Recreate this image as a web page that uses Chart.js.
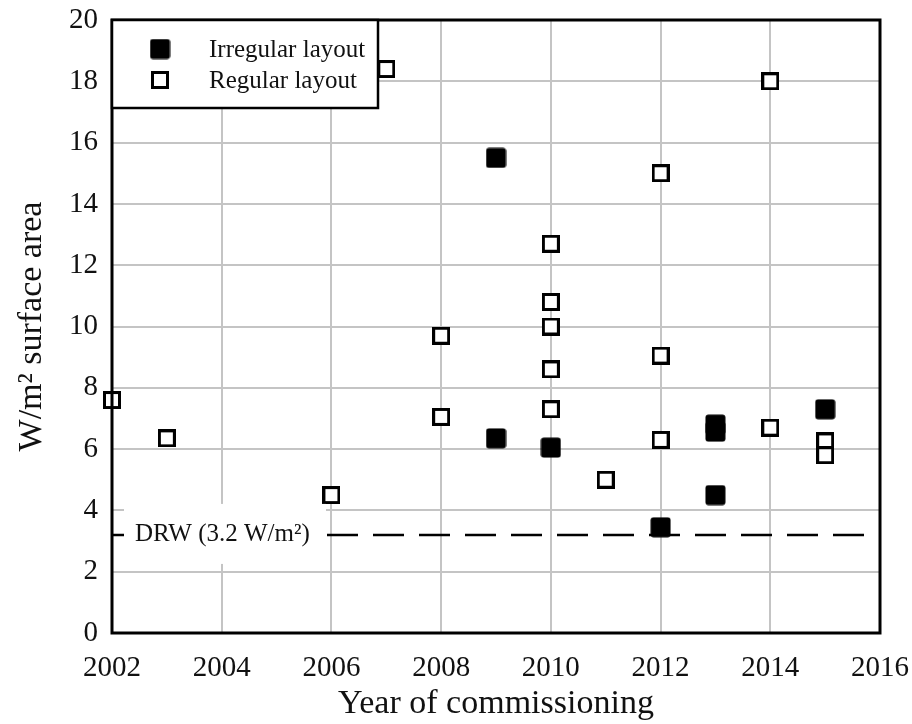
<!DOCTYPE html>
<html>
<head>
<meta charset="utf-8">
<script src="https://cdn.jsdelivr.net/npm/chart.js@4/dist/chart.umd.min.js"></script>
<style>
  html, body { margin: 0; padding: 0; background: #fff; }
  #wrap { width: 912px; height: 724px; }
</style>
</head>
<body>
<div id="wrap"><canvas id="c" width="912" height="724"></canvas></div>
<script>
// Axis ticks
const yearTicks = [2002, 2004, 2006, 2008, 2010, 2012, 2014, 2016];
const valueTicks = [0, 2, 4, 6, 8, 10, 12, 14, 16, 18, 20];

// Irregular layout projects (filled markers)
const irregularYears  = [2009, 2009, 2010, 2012, 2013, 2013, 2013, 2015];
const irregularValues = [15.5, 6.35, 6.05, 3.45, 6.8, 6.57, 4.5, 7.3];

// Regular layout projects (open markers)
const regularYears  = [2002, 2003, 2006, 2007, 2008, 2008, 2010, 2010, 2010, 2010, 2010, 2011, 2012, 2012, 2012, 2014, 2014, 2015, 2015];
const regularValues = [7.6, 6.35, 4.5, 18.4, 9.7, 7.05, 12.7, 10.8, 10.0, 8.6, 7.3, 5.0, 15.0, 9.05, 6.3, 18.0, 6.7, 6.25, 5.8];

// Reference level
const drwLevel = 3.2;
const drwLabel = 'DRW (3.2 W/m²)';

const seriesNames = ['Irregular layout', 'Regular layout'];
const xTitle = 'Year of commissioning';
const yTitle = 'W/m² surface area';

const SERIF = '"Liberation Serif", "Times New Roman", serif';

function toPoints(xs, ys) { return xs.map((x, i) => ({ x: x, y: ys[i] })); }

// Marker images
function filledMarker() {
  const c = document.createElement('canvas');
  c.width = 21; c.height = 21;
  const g = c.getContext('2d');
  g.fillStyle = '#000';
  g.beginPath();
  g.roundRect(0.5, 0.5, 20, 20, 3);
  g.fill();
  return c;
}
function openMarker() {
  const c = document.createElement('canvas');
  c.width = 18; c.height = 18;
  const g = c.getContext('2d');
  g.fillStyle = '#fff';
  g.fillRect(1.5, 1.5, 15, 15);
  g.strokeStyle = '#000';
  g.lineWidth = 3;
  g.strokeRect(1.5, 1.5, 15, 15);
  return c;
}
const markFilled = filledMarker();
const markOpen = openMarker();

// Label box for the reference line, frame and legend
const overlay = {
  id: 'overlay',
  afterDatasetsDraw(chart) {
    const ctx = chart.ctx;
    const a = chart.chartArea;
    const ys = chart.scales.y;
    const yDrw = ys.getPixelForValue(drwLevel);

    ctx.save();
    // DRW label on white
    ctx.fillStyle = '#fff';
    ctx.fillRect(a.left + 12, yDrw - 31, 202, 60);
    ctx.fillStyle = '#111';
    ctx.font = '25px ' + SERIF;
    ctx.textAlign = 'left';
    ctx.textBaseline = 'middle';
    ctx.fillText(drwLabel, a.left + 23, yDrw);

    // Plot frame
    ctx.strokeStyle = '#000';
    ctx.lineWidth = 3;
    ctx.strokeRect(a.left, a.top, a.right - a.left, a.bottom - a.top);

    // Legend
    const lx = a.left, ly = a.top, lw = 266, lh = 88;
    ctx.fillStyle = '#fff';
    ctx.fillRect(lx, ly, lw, lh);
    ctx.lineWidth = 2.5;
    ctx.strokeRect(lx, ly, lw, lh);
    const marks = [markFilled, markOpen];
    const rows = [ly + 29, ly + 60];
    ctx.font = '25px ' + SERIF;
    ctx.fillStyle = '#111';
    chart.data.datasets.slice(0, 2).forEach((ds, i) => {
      const m = marks[i];
      ctx.drawImage(m, lx + 48 - m.width / 2, rows[i] - m.height / 2);
      ctx.fillText(ds.label, lx + 97, rows[i] + 1);
    });
    ctx.restore();
  }
};

function noScalePadding(s) {
  s.paddingLeft = 0; s.paddingRight = 0; s.paddingTop = 0; s.paddingBottom = 0;
}

new Chart(document.getElementById('c'), {
  type: 'scatter',
  data: {
    datasets: [
      {
        label: seriesNames[0],
        data: toPoints(irregularYears, irregularValues),
        pointStyle: markFilled,
        clip: false
      },
      {
        label: seriesNames[1],
        data: toPoints(regularYears, regularValues),
        pointStyle: markOpen,
        clip: false
      },
      {
        type: 'line',
        label: 'DRW',
        data: [{ x: yearTicks[0], y: drwLevel }, { x: yearTicks[yearTicks.length - 1], y: drwLevel }],
        borderColor: '#000',
        borderWidth: 2.5,
        borderDash: [31, 15],
        borderDashOffset: 15,
        pointRadius: 0,
        fill: false
      }
    ]
  },
  options: {
    responsive: false,
    devicePixelRatio: 1,
    animation: false,
    events: [],
    layout: { padding: { left: 12, top: 20, right: 32, bottom: 0 } },
    plugins: {
      legend: { display: false },
      tooltip: { enabled: false }
    },
    scales: {
      x: {
        type: 'linear',
        min: yearTicks[0],
        max: yearTicks[yearTicks.length - 1],
        afterBuildTicks: s => { s.ticks = yearTicks.map(v => ({ value: v })); },
        afterFit: s => { s.height = 91; noScalePadding(s); },
        grid: { color: '#c4c4c4', lineWidth: 2, drawTicks: false },
        border: { display: false },
        ticks: {
          padding: 18,
          color: '#111',
          font: { family: SERIF, size: 29, lineHeight: 1.2 },
          callback: v => String(v),
          maxRotation: 0
        },
        title: {
          display: true,
          text: xTitle,
          color: '#111',
          padding: 0,
          font: { family: SERIF, size: 34, lineHeight: 1.2 }
        }
      },
      y: {
        type: 'linear',
        min: valueTicks[0],
        max: valueTicks[valueTicks.length - 1],
        afterBuildTicks: s => { s.ticks = valueTicks.map(v => ({ value: v })); },
        afterFit: s => { s.width = 100; noScalePadding(s); },
        grid: { color: '#c4c4c4', lineWidth: 2, drawTicks: false },
        border: { display: false },
        ticks: {
          padding: 14,
          color: '#111',
          font: { family: SERIF, size: 29, lineHeight: 1.2 },
          callback: v => String(v)
        },
        title: {
          display: true,
          text: yTitle,
          color: '#111',
          padding: 0,
          font: { family: SERIF, size: 34, lineHeight: 1.2 }
        }
      }
    }
  },
  plugins: [overlay]
});
</script>
</body>
</html>
